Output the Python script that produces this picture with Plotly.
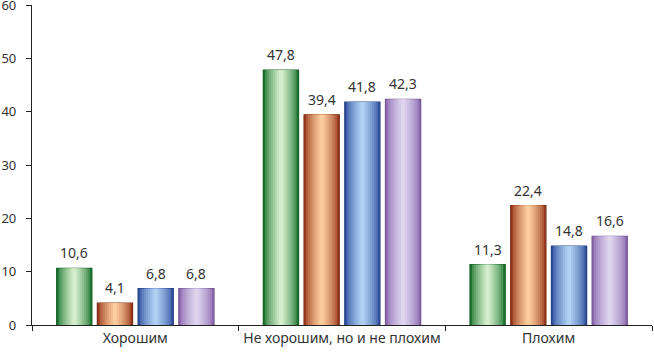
import plotly.graph_objects as go

categories = ["Хорошим", "Не хорошим, но и не плохим", "Плохим"]
series_a = [10.6, 47.8, 11.3]
series_b = [4.1, 39.4, 22.4]
series_c = [6.8, 41.8, 14.8]
series_d = [6.8, 42.3, 16.6]
series = [series_a, series_b, series_c, series_d]
labels = [[f"{v:.1f}".replace(".", ",") for v in s] for s in series]

edge_colors = [(28, 118, 48), (152, 56, 28), (50, 80, 160), (140, 105, 175)]
center_colors = [(212, 238, 204), (253, 204, 156), (174, 208, 242), (222, 212, 238)]

slot = 0.197
bar_w = 0.17
layers = 9

def mix(c1, c2, t):
    return "rgb(%d,%d,%d)" % tuple(round(a + (b - a) * t) for a, b in zip(c1, c2))

fig = go.Figure()
for i, vals in enumerate(series):
    center = (i - 1.5) * slot
    for k in range(layers):
        w = bar_w * (1 - k / layers)
        t = (k / (layers - 1)) ** 0.7
        fig.add_trace(go.Bar(
            x=categories, y=vals,
            width=[w] * len(vals), offset=[center - w / 2] * len(vals),
            marker=dict(color=mix(edge_colors[i], center_colors[i], t),
                        line=dict(width=1.3 if k == 0 else 0,
                                  color=mix(edge_colors[i], (0, 0, 0), 0.15))),
            showlegend=False, hoverinfo="skip",
        ))
    for j, v in enumerate(vals):
        fig.add_annotation(x=j + center, y=v, xref="x", yref="y", text=labels[i][j],
                           showarrow=False, yanchor="bottom", yshift=4,
                           font=dict(size=14, color="#333333", family="Noto Sans"))

fig.update_layout(
    barmode="overlay",
    width=654, height=354,
    margin=dict(l=32, r=2, t=5, b=29),
    paper_bgcolor="white", plot_bgcolor="white",
    font=dict(family="Noto Sans", size=14, color="#333333"),
)
fig.update_xaxes(type="category", tickson="boundaries", ticks="outside", ticklen=5,
                 tickcolor="#222222", showline=True, linecolor="#222222", linewidth=1.2,
                 showgrid=False, range=[-0.5, 2.5], automargin=False)
fig.update_yaxes(range=[0, 60], dtick=10, ticks="outside", ticklen=5, tickcolor="#222222",
                 showline=True, linecolor="#222222", linewidth=1.2, showgrid=False,
                 zeroline=False, automargin=False, ticklabelstandoff=7,
                 ticklabeloverflow="allow", tickfont=dict(size=13))

fig.write_html("out.html", config={"displayModeBar": False},
               post_script="document.body.style.margin='0';document.body.style.overflow='hidden';")
